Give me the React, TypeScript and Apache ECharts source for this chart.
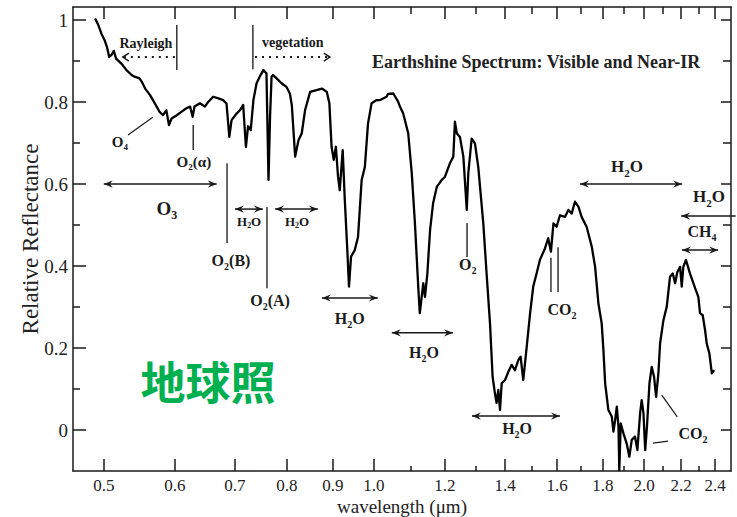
import React, { useEffect, useRef } from "react";
import * as echarts from "echarts";

// ---- data ----
const wavelength = [
  0.489, 0.493, 0.497, 0.501, 0.504, 0.507, 0.510, 0.513, 0.516, 0.523,
  0.530, 0.537, 0.541, 0.548, 0.551, 0.556, 0.563, 0.570, 0.577, 0.582,
  0.587, 0.591, 0.595, 0.603, 0.610, 0.618, 0.624, 0.628, 0.631, 0.640,
  0.648, 0.654, 0.662, 0.671, 0.679, 0.685, 0.688, 0.690, 0.694,
  0.703, 0.709, 0.715, 0.720,
  0.724, 0.729, 0.734, 0.740, 0.746, 0.753, 0.756, 0.759, 0.763, 0.766,
  0.769, 0.772, 0.779, 0.789, 0.799, 0.806, 0.810, 0.817, 0.824, 0.831,
  0.838, 0.849, 0.863, 0.875, 0.886, 0.892, 0.897, 0.902, 0.907, 0.912,
  0.916, 0.923, 0.928, 0.934, 0.938, 0.943, 0.952, 0.960, 0.969, 0.977,
  0.985, 0.994, 1.007, 1.016, 1.033, 1.037, 1.051, 1.064, 1.069, 1.078,
  1.092, 1.102, 1.111, 1.121, 1.125, 1.135, 1.140, 1.147, 1.155, 1.164,
  1.175, 1.190, 1.200, 1.215, 1.226, 1.231, 1.237, 1.247, 1.258, 1.269,
  1.274, 1.285, 1.296, 1.307, 1.324,
  1.336, 1.347, 1.356, 1.364, 1.370, 1.376, 1.382, 1.388, 1.400, 1.412,
  1.424, 1.436, 1.449, 1.457, 1.467, 1.480, 1.493, 1.505, 1.518, 1.531,
  1.551, 1.564, 1.575, 1.585, 1.598, 1.612, 1.633, 1.647, 1.661, 1.675,
  1.690, 1.704, 1.726, 1.749, 1.764, 1.779, 1.794, 1.802, 1.810, 1.825,
  1.841, 1.849, 1.857, 1.865, 1.873, 1.877, 1.884, 1.897, 1.913, 1.926,
  1.938, 1.954, 1.966, 1.980, 1.988, 1.997, 2.006, 2.015, 2.028, 2.040,
  2.052, 2.063, 2.075, 2.084, 2.102, 2.120, 2.138, 2.153, 2.166, 2.178,
  2.194, 2.203, 2.212, 2.227, 2.250, 2.280, 2.299, 2.309, 2.325, 2.339,
  2.349, 2.365, 2.380, 2.394,
];

const reflectance = [
  1.004, 0.988, 0.967, 0.951, 0.935, 0.910, 0.915, 0.925, 0.906, 0.894,
  0.878, 0.866, 0.862, 0.858, 0.850, 0.833, 0.817, 0.797, 0.776, 0.768,
  0.780, 0.744, 0.760, 0.768, 0.776, 0.785, 0.789, 0.764, 0.789, 0.797,
  0.789, 0.801, 0.813, 0.809, 0.805, 0.797, 0.748, 0.715, 0.756,
  0.772, 0.780, 0.793, 0.691,
  0.741, 0.732, 0.805, 0.846, 0.862, 0.878, 0.874, 0.870, 0.610, 0.764,
  0.862, 0.866, 0.858, 0.846, 0.837, 0.821, 0.793, 0.667, 0.707, 0.724,
  0.780, 0.825, 0.829, 0.833, 0.825, 0.797, 0.691, 0.659, 0.691, 0.618,
  0.585, 0.683, 0.561, 0.439, 0.350, 0.423, 0.439, 0.471, 0.610, 0.642,
  0.748, 0.797, 0.805, 0.805, 0.813, 0.820, 0.821, 0.801, 0.789, 0.772,
  0.724, 0.626, 0.504, 0.341, 0.285, 0.358, 0.325, 0.382, 0.488, 0.553,
  0.593, 0.610, 0.618, 0.650, 0.667, 0.752, 0.724, 0.715, 0.667, 0.537,
  0.626, 0.711, 0.699, 0.642, 0.504,
  0.374, 0.260, 0.130, 0.090, 0.066, 0.098, 0.049, 0.114, 0.122, 0.142,
  0.159, 0.146, 0.171, 0.179, 0.122, 0.203, 0.285, 0.350, 0.382, 0.415,
  0.443, 0.468, 0.435, 0.504, 0.496, 0.524, 0.520, 0.537, 0.528, 0.557,
  0.545, 0.520, 0.496, 0.447, 0.398, 0.309, 0.260, 0.195, 0.114, 0.049,
  0.033, -0.004, 0.024, 0.057, 0.008, -0.098, 0.016, -0.008, -0.033, -0.065,
  -0.024, -0.016, -0.049, 0.041, 0.073, 0.041, -0.049, 0.008, 0.114, 0.154,
  0.130, 0.081, 0.138, 0.211, 0.268, 0.301, 0.374, 0.382, 0.358, 0.385,
  0.398, 0.350, 0.398, 0.415, 0.382, 0.346, 0.325, 0.285, 0.280, 0.244,
  0.211, 0.187, 0.138, 0.146,
];

const xMajorTicks = [0.5, 0.6, 0.7, 0.8, 0.9, 1.0, 1.2, 1.4, 1.6, 1.8, 2.0, 2.2, 2.4];
const xMinorTicks = [1.1, 1.3, 1.5, 1.7, 1.9, 2.1, 2.3];
const yMajorTicks = [0, 0.2, 0.4, 0.6, 0.8, 1.0];
const yMinorTicks = [0.1, 0.3, 0.5, 0.7, 0.9];

const chartTitle = "Earthshine Spectrum: Visible and Near-IR";
const overlayText = "地球照";

// ---- annotations, in data units (wavelength µm, reflectance) ----
const vLines = [
  [0.603, 0.988, 0.878],
  [0.733, 0.988, 0.880],
  [0.629, 0.744, 0.683],
  [0.686, 0.651, 0.456],
  [0.760, 0.544, 0.346],
  [1.270, 0.505, 0.422],
  [1.575, 0.420, 0.337],
  [1.604, 0.446, 0.337],
];
const slantLines = [
  [0.532, 0.720, 0.567, 0.763],
  [2.093, 0.085, 2.178, 0.032],
  [2.046, -0.032, 2.127, -0.027],
];
const arrows = [
  { from: 0.5, to: 0.668, y: 0.6, heads: "both" },
  { from: 0.7, to: 0.752, y: 0.539, heads: "both" },
  { from: 0.776, to: 0.866, y: 0.539, heads: "both" },
  { from: 0.875, to: 1.01, y: 0.322, heads: "both" },
  { from: 1.047, to: 1.225, y: 0.237, heads: "both" },
  { from: 1.286, to: 1.612, y: 0.034, heads: "both" },
  { from: 1.697, to: 2.205, y: 0.6, heads: "both" },
  { from: 2.2, to: 2.53, y: 0.522, heads: "left" },
  { from: 2.205, to: 2.419, y: 0.439, heads: "both" },
];
const dottedArrows = [
  { from: 0.6, to: 0.525, y: 0.91 },
  { from: 0.737, to: 0.893, y: 0.91 },
];
const labels = [
  { t: "Rayleigh", l: 0.557, v: 0.944, size: 14 },
  { t: "vegetation", l: 0.812, v: 0.946, size: 14 },
  { t: "O_4", l: 0.521, v: 0.7, size: 15 },
  { t: "O_2(α)", l: 0.63, v: 0.651, size: 15 },
  { t: "O_3", l: 0.588, v: 0.537, size: 19 },
  { t: "O_2(B)", l: 0.693, v: 0.41, size: 16 },
  { t: "O_2(A)", l: 0.766, v: 0.312, size: 16 },
  { t: "H_2O", l: 0.726, v: 0.507, size: 13 },
  { t: "H_2O", l: 0.821, v: 0.507, size: 13 },
  { t: "H_2O", l: 0.94, v: 0.268, size: 16 },
  { t: "O_2", l: 1.272, v: 0.4, size: 16 },
  { t: "H_2O", l: 1.137, v: 0.185, size: 16 },
  { t: "H_2O", l: 1.444, v: 0.0, size: 16 },
  { t: "CO_2", l: 1.62, v: 0.29, size: 16 },
  { t: "H_2O", l: 1.914, v: 0.639, size: 17 },
  { t: "H_2O", l: 2.363, v: 0.566, size: 17 },
  { t: "CH_4", l: 2.321, v: 0.48, size: 16 },
  { t: "CO_2", l: 2.268, v: -0.012, size: 16 },
];

const SERIF = "'Liberation Serif', 'Times New Roman', serif";
const INK = "#1a1a1a";

function chem(t: string, size: number) {
  const parts: string[] = [];
  const re = /_(\d)/g;
  let last = 0;
  let m: RegExpExecArray | null;
  while ((m = re.exec(t))) {
    if (m.index > last) parts.push(`{a|${t.slice(last, m.index)}}`);
    parts.push(`{s|${m[1]}}`);
    last = m.index + 2;
  }
  if (last < t.length) parts.push(`{a|${t.slice(last)}}`);
  const sub = Math.round(size * 0.62);
  return {
    text: parts.join(""),
    rich: {
      a: { fontSize: size, fontWeight: "bold", fontFamily: SERIF, fill: INK, verticalAlign: "top" },
      s: {
        fontSize: sub,
        fontWeight: "bold",
        fontFamily: SERIF,
        fill: INK,
        verticalAlign: "bottom",
        padding: [Math.round(size * 0.55), 0, 0, 0],
      },
    },
  };
}

export default function App() {
  const ref = useRef<HTMLDivElement>(null);

  useEffect(() => {
    const chart = echarts.init(ref.current!, null, { renderer: "svg" });
    const lnMin = Math.log(0.462);
    const lnMax = Math.log(2.5);
    const axisLineStyle = { color: INK, width: 1.5 };
    const xBase = {
      type: "value",
      min: lnMin,
      max: lnMax,
      splitLine: { show: false },
    };
    const yBase = {
      type: "value",
      min: -0.1,
      max: 1.032,
      splitLine: { show: false },
    };
    chart.setOption({
      animation: false,
      backgroundColor: "#fff",
      title: {
        text: chartTitle,
        left: 372,
        top: 53,
        padding: 0,
        textStyle: { fontFamily: SERIF, fontSize: 18, fontWeight: "bold", color: "#222" },
      },
      grid: { left: 73, right: 6, top: 7, bottom: 46, containLabel: false, outerBoundsMode: "none" },
      xAxis: [
        {
          ...xBase,
          position: "bottom",
          axisLine: { show: true, onZero: false, lineStyle: axisLineStyle },
          axisTick: { show: true, inside: true, length: 12, customValues: xMajorTicks.map(Math.log), lineStyle: axisLineStyle },
          axisLabel: {
            show: true,
            customValues: xMajorTicks.map(Math.log),
            formatter: (v: number) => Math.exp(v).toFixed(1),
            fontFamily: SERIF,
            fontSize: 17,
            color: "#222",
            margin: 6,
          },
          name: "wavelength (μm)",
          nameLocation: "middle",
          nameGap: 26,
          nameMoveOverlap: false,
          nameTextStyle: { fontFamily: SERIF, fontSize: 19, color: "#222" },
        },
        {
          ...xBase,
          position: "bottom",
          axisLine: { show: false, onZero: false },
          axisTick: { show: true, inside: true, length: 5, customValues: xMinorTicks.map(Math.log), lineStyle: axisLineStyle },
          axisLabel: { show: false },
        },
        {
          ...xBase,
          position: "top",
          axisLine: { show: true, onZero: false, lineStyle: axisLineStyle },
          axisTick: { show: true, inside: true, length: 12, customValues: xMajorTicks.map(Math.log), lineStyle: axisLineStyle },
          axisLabel: { show: false },
        },
        {
          ...xBase,
          position: "top",
          axisLine: { show: false, onZero: false },
          axisTick: { show: true, inside: true, length: 7, customValues: xMinorTicks.map(Math.log), lineStyle: axisLineStyle },
          axisLabel: { show: false },
        },
      ],
      yAxis: [
        {
          ...yBase,
          position: "left",
          axisLine: { show: true, onZero: false, lineStyle: axisLineStyle },
          axisTick: { show: true, inside: true, length: 13, customValues: yMajorTicks, lineStyle: axisLineStyle },
          axisLabel: {
            show: true,
            customValues: yMajorTicks,
            formatter: (v: number) => String(Math.round(v * 10) / 10),
            fontFamily: SERIF,
            fontSize: 19,
            color: "#222",
            margin: 5,
          },
          name: "Relative Reflectance",
          nameLocation: "middle",
          nameGap: 31,
          nameMoveOverlap: false,
          nameRotate: 90,
          nameTextStyle: { fontFamily: SERIF, fontSize: 23, color: "#222" },
        },
        {
          ...yBase,
          position: "left",
          axisLine: { show: false, onZero: false },
          axisTick: { show: true, inside: true, length: 7, customValues: yMinorTicks, lineStyle: axisLineStyle },
          axisLabel: { show: false },
        },
        {
          ...yBase,
          position: "right",
          axisLine: { show: true, onZero: false, lineStyle: axisLineStyle },
          axisTick: { show: true, inside: true, length: 10, customValues: yMajorTicks, lineStyle: axisLineStyle },
          axisLabel: { show: false },
        },
        {
          ...yBase,
          position: "right",
          axisLine: { show: false, onZero: false },
          axisTick: { show: true, inside: true, length: 8, customValues: yMinorTicks, lineStyle: axisLineStyle },
          axisLabel: { show: false },
        },
      ],
      series: [
        {
          type: "line",
          xAxisIndex: 0,
          yAxisIndex: 0,
          data: wavelength.map((l, i) => [Math.log(l), reflectance[i]]),
          showSymbol: false,
          symbol: "none",
          silent: true,
          z: 3,
          lineStyle: { color: "#000", width: 2.3, join: "round" },
        },
      ],
    });

    const p = (l: number, v: number) =>
      chart.convertToPixel({ xAxisIndex: 0, yAxisIndex: 0 }, [Math.log(l), v]) as number[];

    const g: any[] = [];
    const stroke = { stroke: INK, lineWidth: 1.5 };

    vLines.forEach(([l, v1, v2]) => {
      const a = p(l, v1);
      const b = p(l, v2);
      g.push({ type: "line", silent: true, shape: { x1: a[0], y1: a[1], x2: b[0], y2: b[1] }, style: { ...stroke, stroke: "#333" } });
    });
    slantLines.forEach(([l1, v1, l2, v2]) => {
      const a = p(l1, v1);
      const b = p(l2, v2);
      g.push({ type: "line", silent: true, shape: { x1: a[0], y1: a[1], x2: b[0], y2: b[1] }, style: { ...stroke, lineWidth: 1.2 } });
    });

    const head = (x: number, y: number, dir: number) => {
      const L = 9;
      const W = 3.6;
      g.push({
        type: "polygon",
        silent: true,
        shape: {
          points: [
            [x, y],
            [x - dir * L, y - W],
            [x - dir * L * 0.65, y],
            [x - dir * L, y + W],
          ],
        },
        style: { fill: INK },
      });
    };

    arrows.forEach((a) => {
      const s = p(a.from, a.y);
      const e = p(a.to, a.y);
      g.push({ type: "line", silent: true, shape: { x1: s[0], y1: s[1], x2: e[0], y2: e[1] }, style: stroke });
      if (a.heads === "both") {
        head(s[0], s[1], -1);
        head(e[0], e[1], 1);
      } else if (a.heads === "left") {
        head(s[0], s[1], -1);
      }
    });

    dottedArrows.forEach((a) => {
      const s = p(a.from, a.y);
      const e = p(a.to, a.y);
      const dir = e[0] > s[0] ? 1 : -1;
      g.push({
        type: "line",
        silent: true,
        shape: { x1: s[0], y1: s[1], x2: e[0], y2: e[1] },
        style: { stroke: INK, lineWidth: 1.8, lineDash: [2, 5] },
      });
      g.push({
        type: "polyline",
        silent: true,
        shape: { points: [[e[0] - dir * 6, e[1] - 4], [e[0], e[1]], [e[0] - dir * 6, e[1] + 4]] },
        style: { stroke: INK, lineWidth: 1.5, fill: null },
      });
    });

    labels.forEach((lb) => {
      const c = p(lb.l, lb.v);
      const ct = chem(lb.t, lb.size);
      g.push({
        type: "text",
        silent: true,
        x: c[0],
        y: c[1],
        style: {
          text: ct.text,
          rich: ct.rich,
          fontSize: lb.size,
          fontWeight: "bold",
          fontFamily: SERIF,
          fill: INK,
          align: "center",
          verticalAlign: "middle",
        },
      });
    });

    g.push({
      type: "text",
      silent: true,
      x: 208,
      y: 380,
      style: {
        text: overlayText,
        fontSize: 45,
        fontWeight: "bold",
        fontFamily: "'Noto Sans CJK SC', sans-serif",
        fill: "#00b050",
        align: "center",
        verticalAlign: "middle",
      },
    });

    chart.setOption({ graphic: g });
    return () => chart.dispose();
  }, []);

  return (
    <div
      ref={ref}
      style={{ position: "fixed", left: 0, top: 0, width: 737, height: 517, background: "#fff" }}
    />
  );
}
